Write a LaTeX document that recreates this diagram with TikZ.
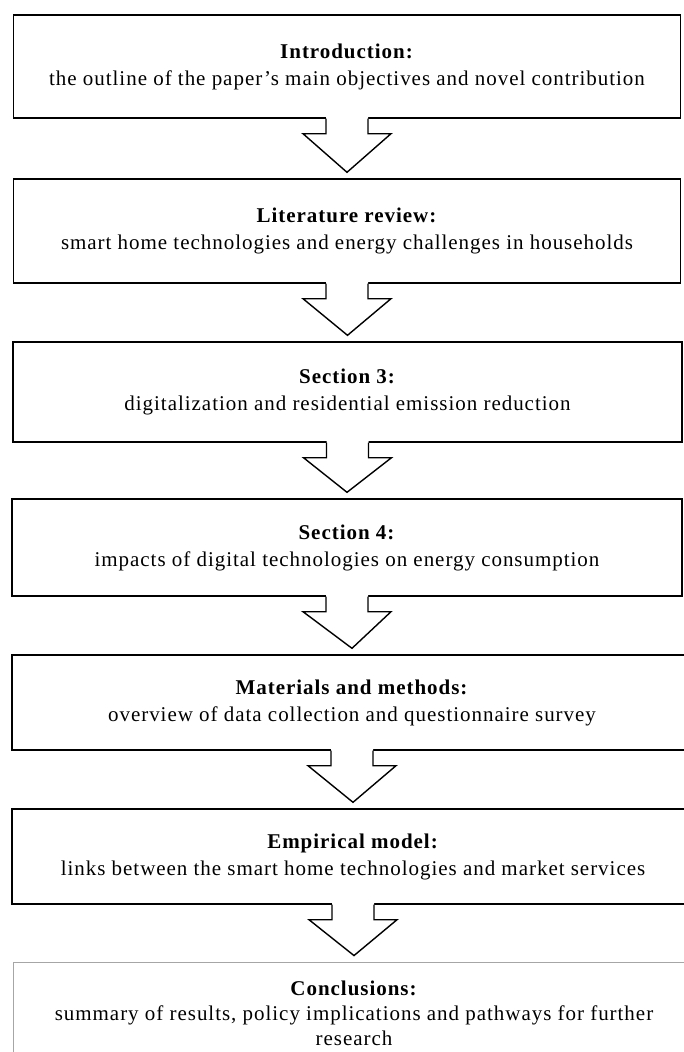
\documentclass[tikz,border=0pt]{standalone}
\usepackage{fontspec}
\setmainfont{Liberation Serif}[LetterSpace=4.6]
\usetikzlibrary{calc}

\tikzset{
  box/.style={draw, line width=1.4pt, inner sep=0pt, align=center,
    font=\fontsize{21}{27}\selectfont},
  lastbox/.style={box, draw=gray!70, line width=0.9pt},
  blockarrow/.style={line width=1.4pt, line join=miter}
}

\begin{document}
\begin{tikzpicture}[x=1pt, y=-1pt]
  \useasboundingbox (0,0) rectangle (683,1052);
  % the boxes
  \node[box, minimum width=667pt, minimum height=103pt] (intro) at (347,66.5)
    {\textbf{Introduction:}\\the outline of the paper's main objectives and novel contribution};
  \node[box, minimum width=667pt, minimum height=104pt] (review) at (347,231)
    {\textbf{Literature review:}\\smart home technologies and energy challenges in households};
  \node[box, minimum width=669pt, minimum height=100pt] (secthree) at (347.5,392)
    {\textbf{Section 3:}\\digitalization and residential emission reduction};
  \node[box, minimum width=670pt, minimum height=97pt] (secfour) at (347,547.5)
    {\textbf{Section 4:}\\impacts of digital technologies on energy consumption};
  \node[box, minimum width=680pt, minimum height=95pt] (methods) at (352,702.5)
    {\textbf{Materials and methods:}\\overview of data collection and questionnaire survey};
  \node[box, minimum width=682pt, minimum height=95pt] (model) at (353,856.5)
    {\textbf{Empirical model:}\\links between the smart home technologies and market services};
  \node[lastbox, minimum width=682pt, minimum height=102pt, font=\fontsize{21}{25}\selectfont]
    (concl) at (354,1013)
    {\textbf{Conclusions:}\\summary of results, policy implications and pathways for further\\research};

  % hollow arrows between the boxes
  \foreach \a/\b in {intro/review, review/secthree, secthree/secfour,
                     secfour/methods, methods/model, model/concl} {
    \fill[white] ($(\a.south)+(-21,-2)$) -- ($(\a.south)+(-21,15)$)
      -- ($(\a.south)+(-44,15)$) -- ($(\b.north)+(0,-6)$)
      -- ($(\a.south)+(44,15)$) -- ($(\a.south)+(21,15)$)
      -- ($(\a.south)+(21,-2)$) -- cycle;
    \draw[blockarrow] ($(\a.south)+(-21,0)$) -- ($(\a.south)+(-21,15)$)
      -- ($(\a.south)+(-44,15)$) -- ($(\b.north)+(0,-6)$)
      -- ($(\a.south)+(44,15)$) -- ($(\a.south)+(21,15)$)
      -- ($(\a.south)+(21,0)$);
  }
\end{tikzpicture}
\end{document}
